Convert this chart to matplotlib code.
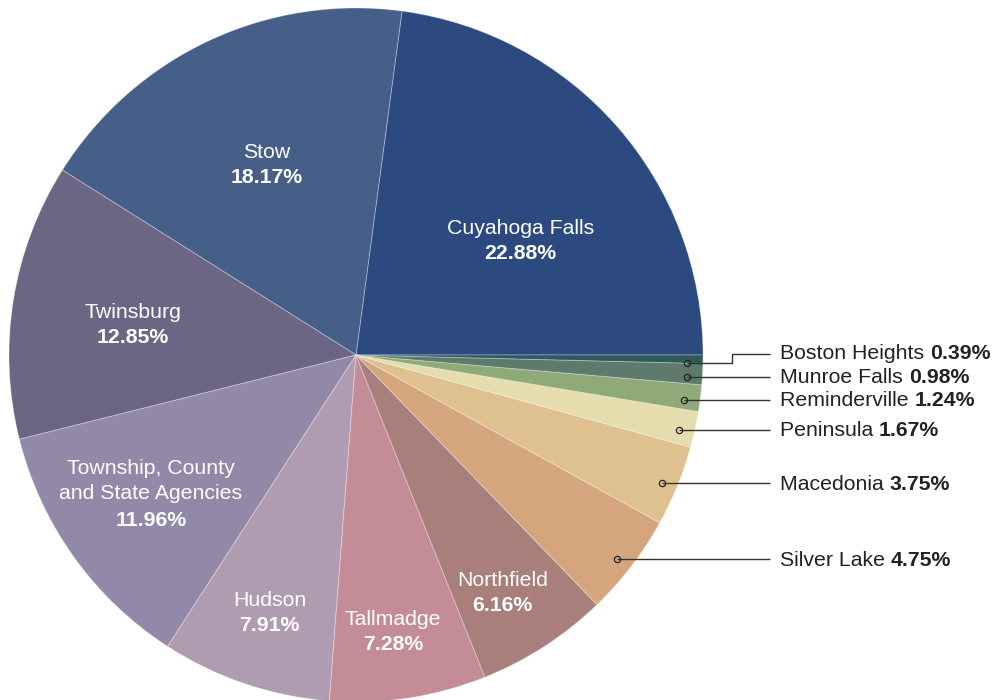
import numpy as np
import matplotlib.pyplot as plt

names = ["Cuyahoga Falls", "Stow", "Twinsburg", "Township, County\nand State Agencies",
         "Hudson", "Tallmadge", "Northfield", "Silver Lake", "Macedonia", "Peninsula",
         "Reminderville", "Munroe Falls", "Boston Heights"]
shares = [22.88, 18.17, 12.85, 11.96, 7.91, 7.28, 6.16, 4.75, 3.75, 1.67, 1.24, 0.98, 0.39]
colors = ["#2d4a80", "#455f88", "#6c6685", "#9289a8", "#b09cb0", "#c48c96", "#a87f7a",
          "#d5a57e", "#dfc190", "#e5ddae", "#8faa78", "#5e7a6c", "#2e5a5e"]
n_inside = 7  # first slices labelled inside, the rest outside

plt.rcParams['font.family'] = ['Liberation Sans', 'DejaVu Sans']

W, H = 992, 700
fig = plt.figure(figsize=(W / 100, H / 100), dpi=100)
ax = fig.add_axes([0, 0, 1, 1])

cx, cy, R = 356, H - 355, 347
wedges, _ = ax.pie(shares, colors=colors, startangle=0, counterclock=True,
                   center=(cx, cy), radius=R, frame=True,
                   wedgeprops=dict(edgecolor=(1, 1, 1, 0.3), linewidth=0.7))
ax.set_xlim(0, W)
ax.set_ylim(0, H)
ax.set_aspect('equal')
ax.axis('off')

fs = 15.3
step = 25

# inside labels
rfrac = [0.58, 0.61, 0.65, 0.71, 0.78, 0.80, 0.80]
dang = [-6, 0, 1, -2, 0, -1, -1]
for i in range(n_inside):
    w = wedges[i]
    mid = (w.theta1 + w.theta2) / 2 + dang[i]
    r = R * rfrac[i]
    x = cx + r * np.cos(np.radians(mid))
    y = cy + r * np.sin(np.radians(mid))
    lines = names[i].split("\n") + [f"{shares[i]:.2f}%"]
    top = y + step * (len(lines) - 1) / 2
    for k, s in enumerate(lines):
        bold = k == len(lines) - 1
        ax.text(x, top - k * step - (2 if bold and k > 1 else 0), s, ha='center',
                va='center_baseline', color='white', fontsize=fs,
                fontweight='bold' if bold else 'normal')

# outside labels with leader lines
pts = []
for i in range(n_inside, len(shares)):
    w = wedges[i]
    mid = np.radians((w.theta1 + w.theta2) / 2 - 0.6)
    px = cx + 0.955 * R * np.cos(mid)
    py = cy + 0.955 * R * np.sin(mid)
    pts.append([i, px, py, py - 1])
# keep labels apart, working upward from the lowest
pts.sort(key=lambda p: p[2])
for k in range(1, len(pts)):
    if pts[k][3] - pts[k - 1][3] < 20:
        pts[k][3] = pts[k - 1][3] + 24

tx = 780
for i, px, py, ly in pts:
    if abs(ly - py) > 2:
        xs = [px, 732, 732, tx - 10]
        ys = [py, py, ly, ly]
    else:
        xs = [px, tx - 10]
        ys = [py, py]
    ax.plot(xs, ys, color='#333333', lw=1, solid_capstyle='butt', zorder=3)
    ax.plot(px, py, 'o', ms=4.5, mfc='none', mec='#222222', mew=0.9, zorder=4)
    t = ax.text(tx, ly, names[i] + " ", ha='left', va='center', color='#222222',
                fontsize=fs)
    fig.canvas.draw()
    bb = t.get_window_extent().transformed(ax.transData.inverted())
    ax.text(bb.x1, ly, f"{shares[i]:.2f}%", ha='left', va='center',
            color='#222222', fontsize=fs, fontweight='bold')

fig.savefig("out.png", dpi=100)
